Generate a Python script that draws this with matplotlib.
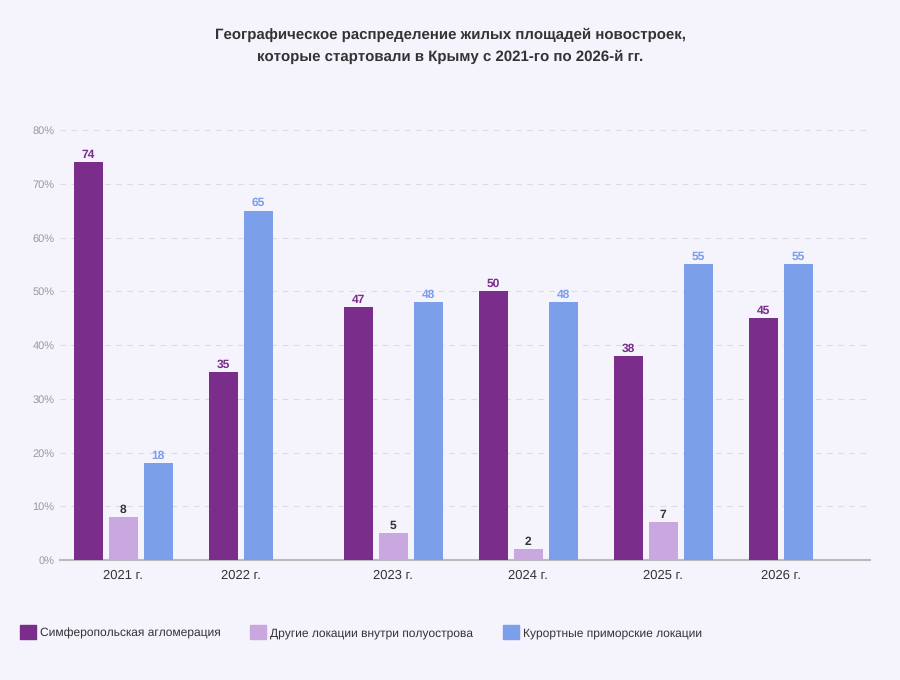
import numpy as np
import matplotlib.pyplot as plt

plt.rcParams['font.family'] = ['Liberation Sans', 'DejaVu Sans']
plt.rcParams['text.hinting'] = 'no_hinting'
plt.rcParams['text.hinting_factor'] = 1

# данные
years = ['2021 г.', '2022 г.', '2023 г.', '2024 г.', '2025 г.', '2026 г.']
simf = [74, 35, 47, 50, 38, 45]
other = [8, None, 5, 2, 7, None]
resort = [18, 65, 48, 48, 55, 55]
series_names = ['Симферопольская агломерация', 'Другие локации внутри полуострова',
                'Курортные приморские локации']
colors = ['#7b2d8c', '#c9a8df', '#7b9fe8']
label_colors = ['#7b2d8c', '#333333', '#7b9fe8']

bg = '#f5f3fc'
fig = plt.figure(figsize=(9, 6.8), dpi=100, facecolor=bg)
ax = fig.add_axes([60 / 900, 1 - 560 / 680, 810 / 900, 430 / 680], facecolor=bg)

slot = 35 / 135
bw = 29.5 / 135
tick_pos = []
for i in range(len(years)):
    vals = [simf[i], other[i], resort[i]]
    present = [(s, v) for s, v in enumerate(vals) if v is not None]
    xs = []
    for k, (s, v) in enumerate(present):
        x = i + (k - 1) * slot
        xs.append(x)
        ax.bar(x, v, width=bw, color=colors[s], zorder=3)
        ax.text(x, v + 0.35, str(v), ha='center', va='bottom', fontsize=8.3,
                fontweight='bold', color=label_colors[s], zorder=4)
    tick_pos.append(np.mean(xs))

ax.set_xlim(-(123.3 - 60) / 135, 5 + (870 - 798.3) / 135)
ax.set_ylim(0, 80)
ax.set_yticks(range(0, 81, 10))
ax.set_yticklabels([f'{v}%' for v in range(0, 81, 10)])
ax.set_xticks(tick_pos)
ax.set_xticklabels(years)
ax.tick_params(axis='y', length=0, labelsize=8.25, labelcolor='#999999', pad=4)
ax.tick_params(axis='x', length=0, labelsize=9, labelcolor='#333333', pad=7)
ax.grid(axis='y', color='#dcdcdc', linestyle=(0, (5, 5)), linewidth=0.8, zorder=0)
for side in ['top', 'right', 'left']:
    ax.spines[side].set_visible(False)
ax.spines['bottom'].set_color('#bbbbbb')
ax.spines['bottom'].set_linewidth(1.5)

fig.text(0.5, 1 - 35 / 680, 'Географическое распределение жилых площадей новостроек,',
         ha='center', va='center', fontsize=10.8, fontweight='bold', color='#333333')
fig.text(0.5, 1 - 57 / 680, 'которые стартовали в Крыму с 2021-го по 2026-й гг.',
         ha='center', va='center', fontsize=10.8, fontweight='bold', color='#333333')

# легенда
leg_x = [20, 250, 503]
for k in range(3):
    fig.patches.append(plt.Rectangle((leg_x[k] / 900, 1 - 639 / 680), 16 / 900, 14 / 680,
                                     transform=fig.transFigure, color=colors[k]))
    fig.text((leg_x[k] + 20) / 900, 1 - 633 / 680, series_names[k], ha='left', va='center',
             fontsize=8.6, color='#333333')

plt.savefig('out.png', dpi=100, facecolor=bg)
